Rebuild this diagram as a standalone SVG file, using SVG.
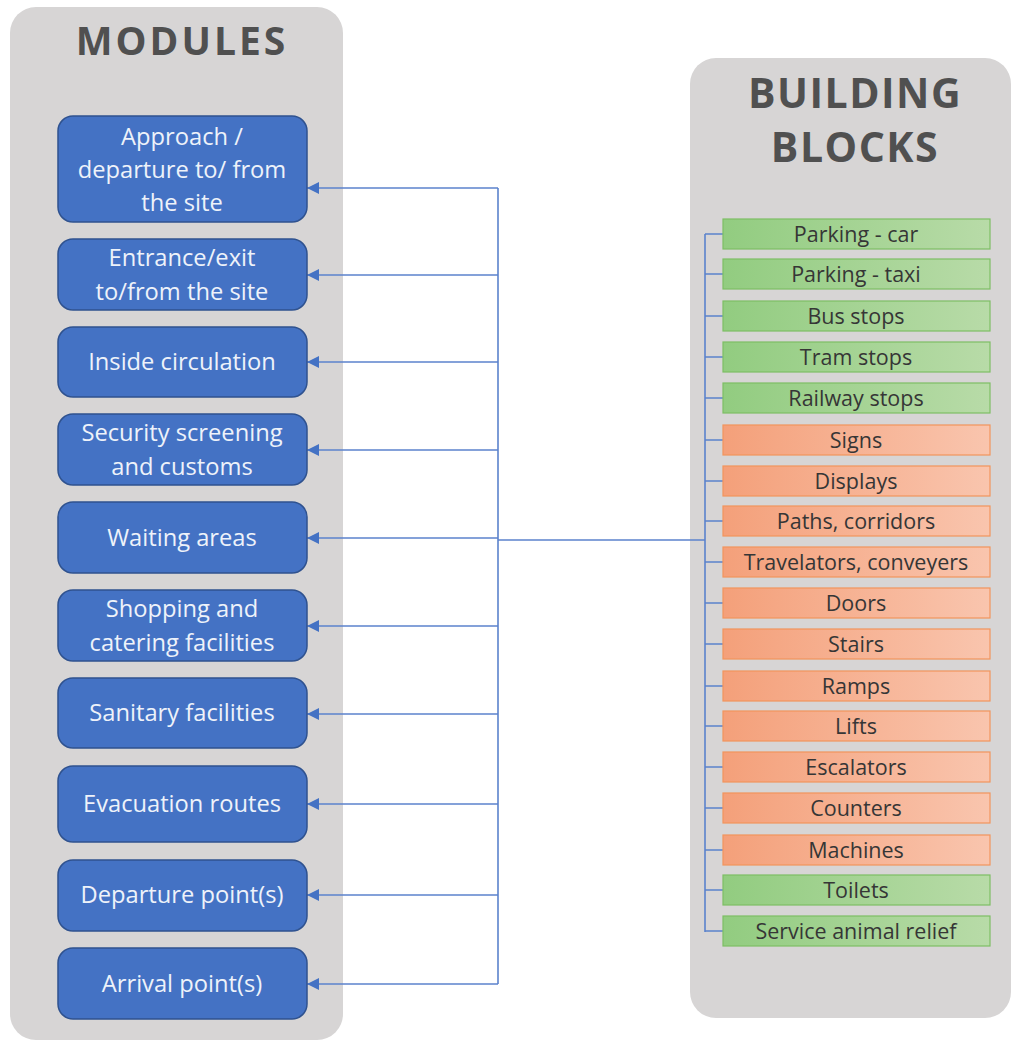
<svg xmlns="http://www.w3.org/2000/svg" width="1011" height="1041" viewBox="0 0 1011 1041">
  <style>
    .panel { fill: #d7d5d5; }
    .title { font-family: "Open Sans", "Noto Sans", "Liberation Sans", sans-serif; font-weight: 700; fill: #505050; text-anchor: middle; }
    .module rect { fill: #4472c4; stroke: #2f528f; stroke-width: 1.5; }
    .module text { font-family: "Open Sans", "Noto Sans", "Liberation Sans", sans-serif; font-size: 23.7px; fill: #eef2fa; text-anchor: middle; }
    .block text { font-family: "Open Sans", "Noto Sans", "Liberation Sans", sans-serif; font-size: 21.5px; fill: #363636; text-anchor: middle; }
    .green rect { fill: url(#gGreen); stroke: #7dbf64; stroke-width: 1.2; }
    .orange rect { fill: url(#gOrange); stroke: #f2945c; stroke-width: 1.2; }
    .wire { fill: none; stroke: #5b82cc; stroke-width: 1.6; }
  </style>
  <defs>
    <linearGradient id="gGreen" x1="0" y1="0" x2="1" y2="0">
      <stop offset="0" stop-color="#92cc80"/>
      <stop offset="1" stop-color="#b8dba8"/>
    </linearGradient>
    <linearGradient id="gOrange" x1="0" y1="0" x2="1" y2="0">
      <stop offset="0" stop-color="#f4a07a"/>
      <stop offset="1" stop-color="#f9c5ae"/>
    </linearGradient>
    <marker id="arrow" viewBox="0 0 12 12" refX="12" refY="6" markerWidth="12" markerHeight="12" markerUnits="userSpaceOnUse" orient="auto">
      <path d="M0,0 L12,6 L0,12 Z" fill="#4472c4"/>
    </marker>
  </defs>

  <!-- background panels -->
  <rect class="panel" x="10" y="7" width="333" height="1033" rx="26"/>
  <rect class="panel" x="690" y="58" width="321" height="960" rx="26"/>

  <text class="title" x="182" y="55" font-size="39" letter-spacing="3">MODULES</text>
  <text class="title" x="855" y="108" font-size="41" letter-spacing="1.5">BUILDING</text>
  <text class="title" x="855" y="162" font-size="41" letter-spacing="1.5">BLOCKS</text>

  <!-- connectors -->
  <g id="connectors">
    <path class="wire" d="M498,188 V984"/>
    <path class="wire" d="M498,540 H705"/>
    <path class="wire" d="M705,234 V932"/>
    <path class="wire" d="M498,188 H307" marker-end="url(#arrow)"/>
    <path class="wire" d="M498,275 H307" marker-end="url(#arrow)"/>
    <path class="wire" d="M498,362 H307" marker-end="url(#arrow)"/>
    <path class="wire" d="M498,450 H307" marker-end="url(#arrow)"/>
    <path class="wire" d="M498,538 H307" marker-end="url(#arrow)"/>
    <path class="wire" d="M498,626 H307" marker-end="url(#arrow)"/>
    <path class="wire" d="M498,714 H307" marker-end="url(#arrow)"/>
    <path class="wire" d="M498,804 H307" marker-end="url(#arrow)"/>
    <path class="wire" d="M498,895 H307" marker-end="url(#arrow)"/>
    <path class="wire" d="M498,984 H307" marker-end="url(#arrow)"/>
    <path class="wire" d="M705,234 H723 M705,274 H723 M705,316 H723 M705,357 H723 M705,398 H723 M705,440 H723 M705,481 H723 M705,521 H723 M705,562 H723 M705,603 H723 M705,644 H723 M705,686 H723 M705,726 H723 M705,767 H723 M705,808 H723 M705,850 H723 M705,890 H723 M705,931 H723"/>
  </g>

  <!-- modules -->
  <g id="m-approach" class="module"><rect x="58" y="116" width="249" height="106" rx="15"/>
    <text x="182" y="145">Approach /</text><text x="182" y="178">departure to/ from</text><text x="182" y="211">the site</text></g>
  <g id="m-entrance" class="module"><rect x="58" y="239" width="249" height="71" rx="15"/>
    <text x="182" y="266">Entrance/exit</text><text x="182" y="300">to/from the site</text></g>
  <g id="m-inside" class="module"><rect x="58" y="327" width="249" height="70" rx="15"/>
    <text x="182" y="370">Inside circulation</text></g>
  <g id="m-security" class="module"><rect x="58" y="414" width="249" height="71" rx="15"/>
    <text x="182" y="441">Security screening</text><text x="182" y="475">and customs</text></g>
  <g id="m-waiting" class="module"><rect x="58" y="502" width="249" height="71" rx="15"/>
    <text x="182" y="546">Waiting areas</text></g>
  <g id="m-shopping" class="module"><rect x="58" y="590" width="249" height="71" rx="15"/>
    <text x="182" y="617">Shopping and</text><text x="182" y="651">catering facilities</text></g>
  <g id="m-sanitary" class="module"><rect x="58" y="678" width="249" height="70" rx="15"/>
    <text x="182" y="721">Sanitary facilities</text></g>
  <g id="m-evacuation" class="module"><rect x="58" y="766" width="249" height="76" rx="15"/>
    <text x="182" y="812">Evacuation routes</text></g>
  <g id="m-departure" class="module"><rect x="58" y="860" width="249" height="71" rx="15"/>
    <text x="182" y="903">Departure point(s)</text></g>
  <g id="m-arrival" class="module"><rect x="58" y="948" width="249" height="71" rx="15"/>
    <text x="182" y="992">Arrival point(s)</text></g>

  <!-- building blocks -->
  <g id="b-parking-car" class="block green"><rect x="723" y="219" width="267" height="30"/><text x="856" y="241.5">Parking - car</text></g>
  <g id="b-parking-taxi" class="block green"><rect x="723" y="259" width="267" height="30"/><text x="856" y="281.5">Parking - taxi</text></g>
  <g id="b-bus" class="block green"><rect x="723" y="301" width="267" height="30"/><text x="856" y="323.5">Bus stops</text></g>
  <g id="b-tram" class="block green"><rect x="723" y="342" width="267" height="30"/><text x="856" y="364.5">Tram stops</text></g>
  <g id="b-railway" class="block green"><rect x="723" y="383" width="267" height="30"/><text x="856" y="405.5">Railway stops</text></g>
  <g id="b-signs" class="block orange"><rect x="723" y="425" width="267" height="30"/><text x="856" y="447.5">Signs</text></g>
  <g id="b-displays" class="block orange"><rect x="723" y="466" width="267" height="30"/><text x="856" y="488.5">Displays</text></g>
  <g id="b-paths" class="block orange"><rect x="723" y="506" width="267" height="30"/><text x="856" y="528.5">Paths, corridors</text></g>
  <g id="b-travelators" class="block orange"><rect x="723" y="547" width="267" height="30"/><text x="856" y="569.5">Travelators, conveyers</text></g>
  <g id="b-doors" class="block orange"><rect x="723" y="588" width="267" height="30"/><text x="856" y="610.5">Doors</text></g>
  <g id="b-stairs" class="block orange"><rect x="723" y="629" width="267" height="30"/><text x="856" y="651.5">Stairs</text></g>
  <g id="b-ramps" class="block orange"><rect x="723" y="671" width="267" height="30"/><text x="856" y="693.5">Ramps</text></g>
  <g id="b-lifts" class="block orange"><rect x="723" y="711" width="267" height="30"/><text x="856" y="733.5">Lifts</text></g>
  <g id="b-escalators" class="block orange"><rect x="723" y="752" width="267" height="30"/><text x="856" y="774.5">Escalators</text></g>
  <g id="b-counters" class="block orange"><rect x="723" y="793" width="267" height="30"/><text x="856" y="815.5">Counters</text></g>
  <g id="b-machines" class="block orange"><rect x="723" y="835" width="267" height="30"/><text x="856" y="857.5">Machines</text></g>
  <g id="b-toilets" class="block green"><rect x="723" y="875" width="267" height="30"/><text x="856" y="897.5">Toilets</text></g>
  <g id="b-animal" class="block green"><rect x="723" y="916" width="267" height="30"/><text x="856" y="938.5">Service animal relief</text></g>
</svg>
